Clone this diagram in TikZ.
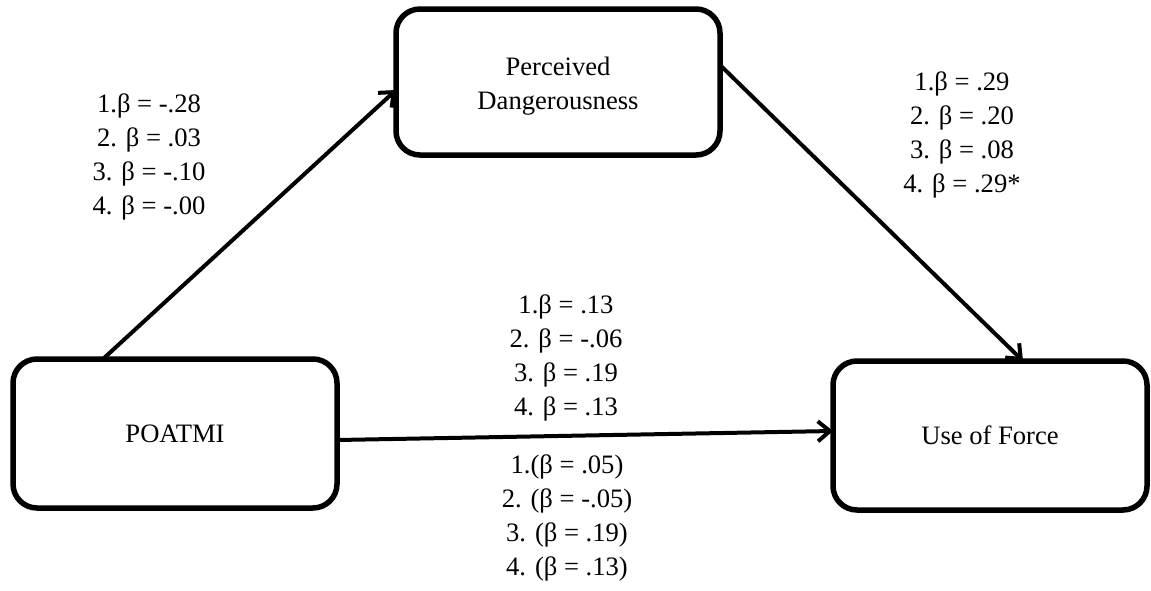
\documentclass[tikz,border=0pt]{standalone}
\usepackage{fontspec}
\setmainfont{Liberation Serif}
\usetikzlibrary{arrows.meta}
\begin{document}
\begin{tikzpicture}[x=0.5pt,y=-0.5pt,
  varbox/.style={draw, line width=2.75pt, rounded corners=12pt, inner sep=0pt,
    outer sep=0pt, align=center, font=\rmfamily\fontsize{13.3}{17}\selectfont},
  coef/.style={align=center, inner sep=0pt, font=\rmfamily\fontsize{13.3}{17}\selectfont},
  effect/.style={line width=2pt, line cap=round,
    -{Straight Barb[length=6pt,width=10pt,line width=2pt]}}]

% canvas
\fill[white] (0,0) rectangle (1151,590);
\useasboundingbox (0,0) rectangle (1151,590);

% variables
\node[varbox, minimum width=162pt, minimum height=73pt] (pd) at (558,82)
  {\rule{0pt}{13pt}Perceived\\Dangerousness};
\node[varbox, minimum width=162pt, minimum height=74.5pt] (poatmi) at (175,433.5)
  {POATMI};
\node[varbox, minimum width=157pt, minimum height=74.5pt] (uof) at (990,435.5)
  {Use of Force};

% paths
\draw[effect] ([xshift=-36pt]poatmi.north) -- ([yshift=-4pt]pd.west);
\draw[effect] ([yshift=8.5pt]pd.east) -- ([xshift=16.5pt]uof.north);
\draw[effect] ([yshift=-3.25pt]poatmi.east) -- ([yshift=2.25pt]uof.west);

% path coefficients
\node[coef] (ca) at (149,156.5)
  {1.β = -.28\\2. β = .03\\3. β = -.10\\4. β = -.00};
\node[coef] (cb) at (962,134.5)
  {1.β = .29\\2. β = .20\\3. β = .08\\4. β = .29*};
\node[coef] (cc) at (566,357.5)
  {1.β = .13\\2. β = -.06\\3. β = .19\\4. β = .13};
\node[coef] (cd) at (567,517.5)
  {1.(β = .05)\\2. (β = -.05)\\3. (β = .19)\\4. (β = .13)};
\end{tikzpicture}
\end{document}
